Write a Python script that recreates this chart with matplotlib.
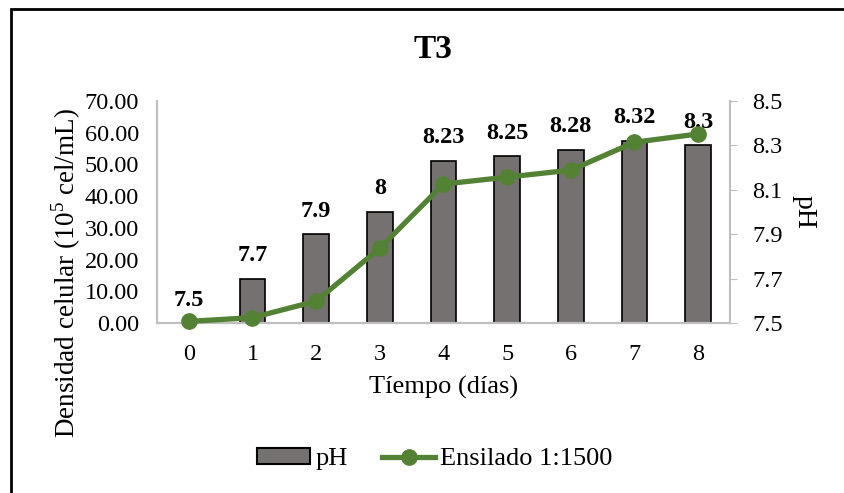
import matplotlib
matplotlib.use("Agg")
import matplotlib.pyplot as plt
from matplotlib.patches import Rectangle, Patch
from matplotlib.lines import Line2D

# =========================
# DATA
# =========================
dias = [0, 1, 2, 3, 4, 5, 6, 7, 8]
ph = [7.5, 7.7, 7.9, 8, 8.23, 8.25, 8.28, 8.32, 8.3]
densidad = [0.5, 1.7, 6.9, 23.6, 43.8, 46.0, 48.2, 57.0, 59.6]
ph_labels = ["7.5", "7.7", "7.9", "8", "8.23", "8.25", "8.28", "8.32", "8.3"]
left_ticks = [0, 10, 20, 30, 40, 50, 60, 70]
right_ticks = [7.5, 7.7, 7.9, 8.1, 8.3, 8.5]

# =========================
# STYLE
# =========================
plt.rcParams["font.family"] = ["Liberation Serif", "DejaVu Serif"]
plt.rcParams["mathtext.fontset"] = "custom"
plt.rcParams["mathtext.rm"] = "Liberation Serif"

BAR_COLOR = "#767171"
LINE_COLOR = "#548235"
AXIS_COLOR = "#BFBFBF"

W, H = 845, 493
fig = plt.figure(figsize=(W / 100, H / 100), dpi=100)

# plot area in pixels: left 157, right 730, top 101, bottom 323
ax1 = fig.add_axes([157 / W, 1 - 323 / H, (730 - 157) / W, (323 - 101) / H])
ax2 = ax1.twinx()

# bars (pH) on the right axis
ax2.bar(dias, [v - 7.5 for v in ph], bottom=7.5, width=0.4,
        color=BAR_COLOR, edgecolor="black", linewidth=1.2, zorder=2)
for x, v, lab in zip(dias, ph, ph_labels):
    ax2.annotate(lab, (x, v), xytext=(0, 9), textcoords="offset points",
                 ha="center", va="bottom", fontsize=17.5, fontweight="bold")

# line (density) on the left axis, drawn over the bars
ax1.set_zorder(ax2.get_zorder() + 1)
ax1.patch.set_visible(False)
ax1.plot(dias, densidad, color=LINE_COLOR, linewidth=3.8, marker="o",
         markersize=11, zorder=3, clip_on=False)

ax1.set_xlim(-0.5, 8.5)
ax1.set_ylim(0, 70)
ax2.set_ylim(7.5, 8.5)

ax1.set_xticks(dias)
ax1.set_yticks(left_ticks)
ax1.set_yticklabels([f"{t:.2f}" for t in left_ticks])
ax2.set_yticks(right_ticks)
ax2.set_yticklabels([f"{t:.1f}" for t in right_ticks])

ax1.tick_params(axis="x", length=0, labelsize=17.5, pad=15)
ax1.tick_params(axis="y", length=0, labelsize=17.5, pad=13)
ax2.tick_params(axis="y", length=5, color=AXIS_COLOR, labelsize=17.5, pad=11)

for a in (ax1, ax2):
    a.spines["top"].set_visible(False)
    for s in ("left", "right", "bottom"):
        a.spines[s].set_color(AXIS_COLOR)
        a.spines[s].set_linewidth(1.5)
ax1.spines["right"].set_visible(False)
ax2.spines["left"].set_visible(False)

ax1.set_xlabel("Tíempo (días)", fontsize=19, labelpad=8)
ax2.set_ylabel("pH", fontsize=20, rotation=-90, labelpad=24)

# left axis title sits lower than the plot centre in the original
fig.text(66 / W, 1 - 273 / H, r"Densidad celular (10$^{5}$ cel/mL)",
         rotation=90, ha="center", va="center", fontsize=19.5)

fig.text(433 / W, 1 - 50 / H, "T3", ha="center", va="center",
         fontsize=24, fontweight="bold")

# legend
handles = [Patch(facecolor=BAR_COLOR, edgecolor="black", linewidth=1.5),
           Line2D([0], [0], color=LINE_COLOR, linewidth=3.8, marker="o",
                  markersize=11)]
fig.legend(handles, ["pH", "Ensilado 1:1500"], loc="center",
           bbox_to_anchor=(435 / W, 1 - 459 / H), ncol=2, frameon=False,
           fontsize=19, handlelength=2.0, handleheight=0.55,
           handletextpad=0.2, columnspacing=1.3)

# outer frame
fig.patches.append(Rectangle((11 / W, -0.05), 1.0, 1 - 9 / H + 0.05,
                             transform=fig.transFigure, fill=False,
                             edgecolor="black", linewidth=2))

fig.savefig("out.png", dpi=100)
